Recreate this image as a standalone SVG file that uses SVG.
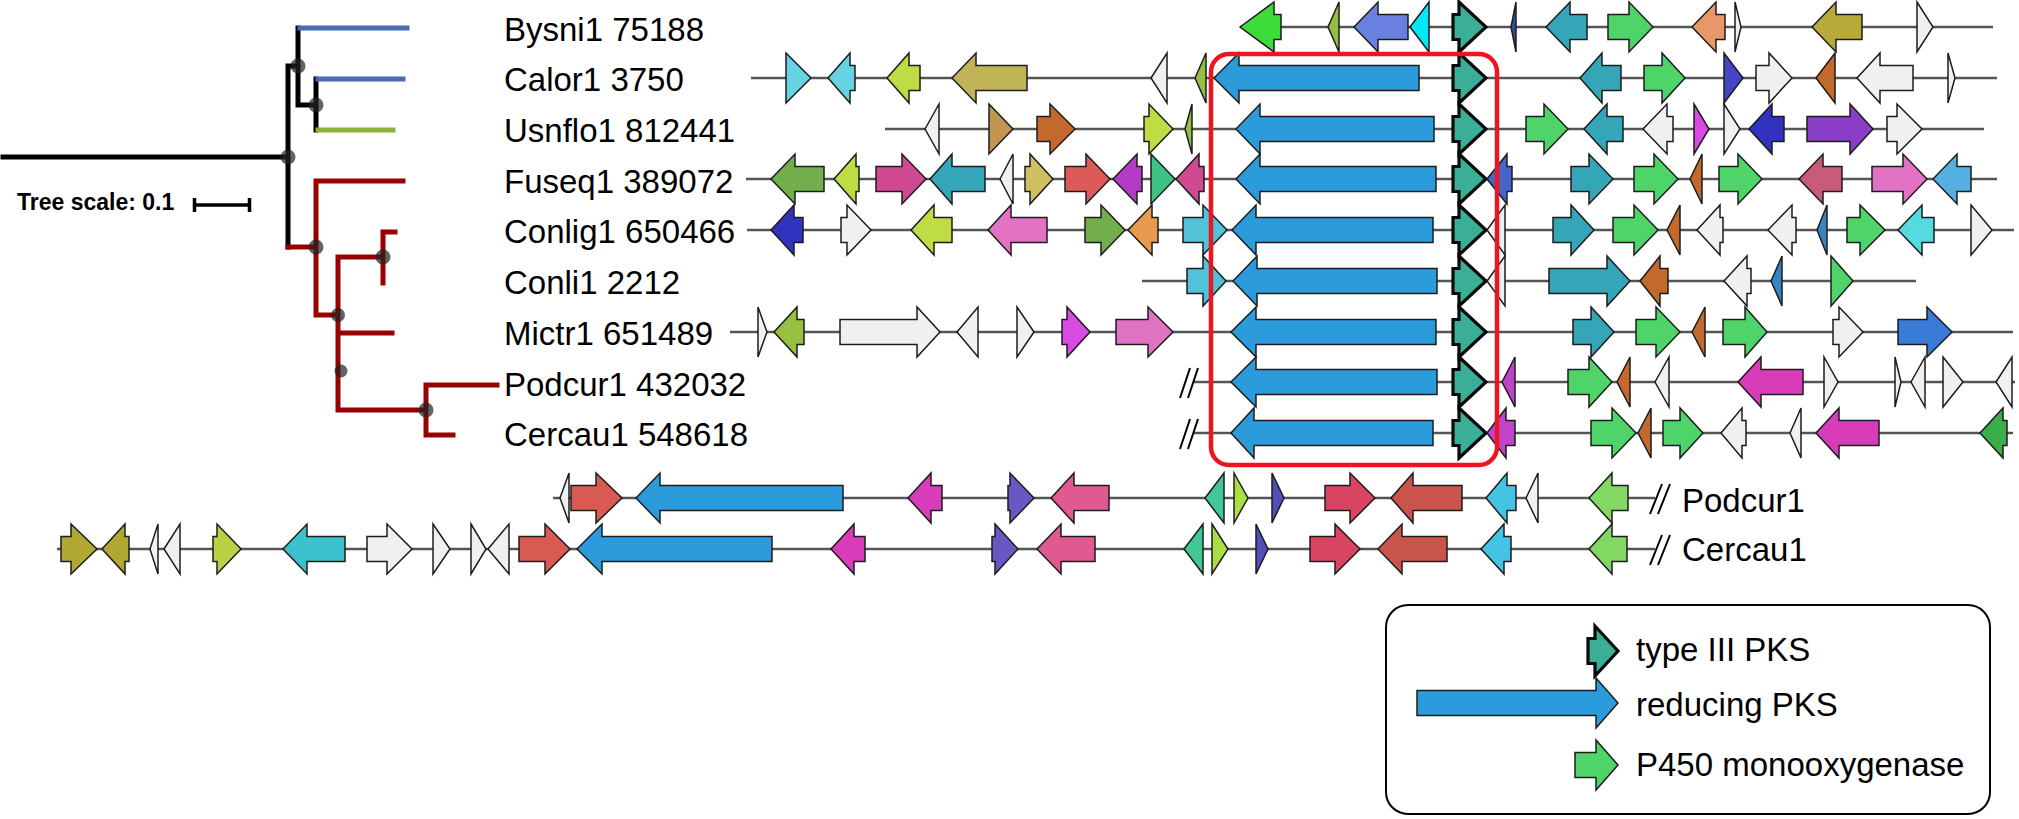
<svg xmlns="http://www.w3.org/2000/svg" width="2019" height="819" viewBox="0 0 2019 819">
<style>
text{font-family:"Liberation Sans",Arial,sans-serif;fill:#000}
.lab{font-size:33px}
.bb{stroke:#555;stroke-width:2.5}
polygon{stroke:#1c1c1c;stroke-width:1.5;stroke-linejoin:miter}
.p3{fill:#3aae97;stroke:#0a0a0a;stroke-width:3.2}
.bg{fill:#3ddc3a}.ol{fill:#93c043}.pw{fill:#6a80e0}.cy{fill:#00e8f5}.db3{fill:#2f4fa0}
.tl{fill:#35a5b8}.gr{fill:#4fd46a}.sa{fill:#e8976a}.wh{fill:#f0f0f0}.ok{fill:#b8aa38}
.lc{fill:#66d2e2}.yg{fill:#bedc44}.kh{fill:#c0b456}.bl{fill:#2b9bdc}.bv{fill:#4545c8}
.br{fill:#c4692e}.tn{fill:#c39555}.dk{fill:#3232c0}.pu{fill:#8a3ec8}.mg{fill:#72ae4c}
.pm{fill:#cf4a92}.kh2{fill:#d0c064}.rd{fill:#dc5a58}.vm{fill:#b43cc4}.tg{fill:#3ec286}
.bu{fill:#4565c8}.rs{fill:#c85a7a}.pi{fill:#e272c4}.lb{fill:#55b0e2}.or{fill:#e89a50}
.lbc{fill:#52c2da}.sb{fill:#3a82c0}.cy2{fill:#55dae0}.mgn{fill:#d84ae2}.bl2{fill:#3a7ad8}
.pur{fill:#c044c8}.mag{fill:#d83cb8}.dg{fill:#3aae4a}.rd2{fill:#d85a52}.sl{fill:#6858c4}
.pk{fill:#e05a92}.tgr{fill:#42c894}.lg{fill:#a8e044}.nb{fill:#5050b8}.cr{fill:#d84462}
.rb{fill:#c8544c}.lb2{fill:#44c4e4}.lgr{fill:#82d862}.ob{fill:#b0a832}.ybg{fill:#b8d244}
.cy3{fill:#3cc2cc}.ol2{fill:#98c040}
.tk{stroke:#000;stroke-width:5;stroke-linecap:square;fill:none}
.tb{stroke:#4a6db0;stroke-width:5;stroke-linecap:square;fill:none}
.tgn{stroke:#8db33a;stroke-width:5;stroke-linecap:square;fill:none}
.tr{stroke:#990000;stroke-width:5;stroke-linecap:square;fill:none}
.nd{fill:#222;fill-opacity:0.7}
.brk{stroke:#000;stroke-width:2}
</style>

<g id="tree">
<path class="tk" d="M3,157H288M288,66V247M288,66H298M298,28V105M298,105H316M316,79V130"/>
<path class="tb" d="M300,28H407M318,79H403"/>
<path class="tgn" d="M318,130H393"/>
<path class="tr" d="M288,247H316M316,181V315M316,181H403M316,315H338M338,257V410M338,257H383M383,232V283M383,232H395M338,333H392M338,410H426M426,385V435M426,385H497M426,435H453"/>
<circle class="nd" cx="298" cy="66" r="7.5"/>
<circle class="nd" cx="316" cy="105" r="7.5"/>
<circle class="nd" cx="288" cy="157" r="7.5"/>
<circle class="nd" cx="316" cy="247" r="7.5"/>
<circle class="nd" cx="383" cy="257" r="7.5"/>
<circle class="nd" cx="338" cy="315" r="7"/>
<circle class="nd" cx="341" cy="371" r="6.5"/>
<circle class="nd" cx="426" cy="410" r="7.5"/>
</g>

<g id="tree-scale">
<text x="17" y="210" font-size="23" font-weight="bold">Tree scale: 0.1</text>
<path d="M193,205H251M194.5,198V212M249.5,198V212" stroke="#000" stroke-width="3.5" fill="none"/>
</g>

<g id="labels" class="lab">
<text x="504" y="41">Bysni1 75188</text>
<text x="504" y="91">Calor1 3750</text>
<text x="504" y="142">Usnflo1 812441</text>
<text x="504" y="193">Fuseq1 389072</text>
<text x="504" y="243">Conlig1 650466</text>
<text x="504" y="294">Conli1 2212</text>
<text x="504" y="345">Mictr1 651489</text>
<text x="504" y="396">Podcur1 432032</text>
<text x="504" y="446">Cercau1 548618</text>
<text x="1682" y="512">Podcur1</text>
<text x="1682" y="561">Cercau1</text>
</g>

<g id="row-bysni1" transform="translate(0,27)">
<line class="bb" x1="1240" x2="1993"/>
<polygon class="bg" points="1240,0 1274,-25 1274,-12.5 1281,-12.5 1281,12.5 1274,12.5 1274,25"/>
<polygon class="ol" points="1328,0 1339,-25 1339,25"/>
<polygon class="pw" points="1354,0 1378,-25 1378,-12.5 1408,-12.5 1408,12.5 1378,12.5 1378,25"/>
<polygon class="cy" points="1410,0 1429,-25 1429,25"/>
<polygon class="p3" points="1453,-12.5 1459,-12.5 1459,-25 1486,0 1459,25 1459,12.5 1453,12.5"/>
<polygon class="db3" points="1511,0 1516,-25 1516,25"/>
<polygon class="tl" points="1546,0 1570,-25 1570,-12.5 1587,-12.5 1587,12.5 1570,12.5 1570,25"/>
<polygon class="gr" points="1608,-12.5 1629,-12.5 1629,-25 1653,0 1629,25 1629,12.5 1608,12.5"/>
<polygon class="sa" points="1692,0 1716,-25 1716,-12.5 1725,-12.5 1725,12.5 1716,12.5 1716,25"/>
<polygon class="wh" points="1735,-25 1741,0 1735,25"/>
<polygon class="ok" points="1812,0 1836,-25 1836,-12.5 1862,-12.5 1862,12.5 1836,12.5 1836,25"/>
<polygon class="wh" points="1917,-25 1933,0 1917,25"/>
</g>

<g id="row-calor1" transform="translate(0,78)">
<line class="bb" x1="751" x2="1997"/>
<polygon class="lc" points="786,-25 811,0 786,25"/>
<polygon class="lc" points="828,0 850,-25 850,-12.5 855,-12.5 855,12.5 850,12.5 850,25"/>
<polygon class="yg" points="887,0 909,-25 909,-12.5 920,-12.5 920,12.5 909,12.5 909,25"/>
<polygon class="kh" points="952,0 976,-25 976,-12.5 1027,-12.5 1027,12.5 976,12.5 976,25"/>
<polygon class="wh" points="1151,0 1167,-25 1167,25"/>
<polygon class="ol" points="1195,0 1206,-25 1206,25"/>
<polygon class="bl" points="1214,0 1239,-25 1239,-12.5 1419,-12.5 1419,12.5 1239,12.5 1239,25"/>
<polygon class="p3" points="1453,-12.5 1459,-12.5 1459,-25 1486,0 1459,25 1459,12.5 1453,12.5"/>
<polygon class="tl" points="1580,0 1602,-25 1602,-12.5 1621,-12.5 1621,12.5 1602,12.5 1602,25"/>
<polygon class="gr" points="1644,-12.5 1662,-12.5 1662,-25 1685,0 1662,25 1662,12.5 1644,12.5"/>
<polygon class="bv" points="1724,-25 1743,0 1724,25"/>
<polygon class="wh" points="1756,-12.5 1769,-12.5 1769,-25 1792,0 1769,25 1769,12.5 1756,12.5"/>
<polygon class="br" points="1816,0 1835,-25 1835,25"/>
<polygon class="wh" points="1857,0 1880,-25 1880,-12.5 1913,-12.5 1913,12.5 1880,12.5 1880,25"/>
<polygon class="wh" points="1948,-25 1955,0 1948,25"/>
</g>

<g id="row-usnflo1" transform="translate(0,129)">
<line class="bb" x1="885" x2="1984"/>
<polygon class="wh" points="925,0 939,-25 939,25"/>
<polygon class="tn" points="989,-25 1013,0 989,25"/>
<polygon class="br" points="1037,-12.5 1050,-12.5 1050,-25 1075,0 1050,25 1050,12.5 1037,12.5"/>
<polygon class="yg" points="1144,-12.5 1149,-12.5 1149,-25 1173,0 1149,25 1149,12.5 1144,12.5"/>
<polygon class="ol" points="1185,0 1192,-25 1192,25"/>
<polygon class="bl" points="1236,0 1260,-25 1260,-12.5 1434,-12.5 1434,12.5 1260,12.5 1260,25"/>
<polygon class="p3" points="1453,-12.5 1459,-12.5 1459,-25 1486,0 1459,25 1459,12.5 1453,12.5"/>
<polygon class="gr" points="1526,-12.5 1544,-12.5 1544,-25 1568,0 1544,25 1544,12.5 1526,12.5"/>
<polygon class="tl" points="1584,0 1607,-25 1607,-12.5 1623,-12.5 1623,12.5 1607,12.5 1607,25"/>
<polygon class="wh" points="1643,0 1667,-25 1667,-12.5 1673,-12.5 1673,12.5 1667,12.5 1667,25"/>
<polygon class="mgn" points="1694,-25 1709,0 1694,25"/>
<polygon class="wh" points="1724,-25 1740,0 1724,25"/>
<polygon class="dk" points="1749,0 1772,-25 1772,-12.5 1784,-12.5 1784,12.5 1772,12.5 1772,25"/>
<polygon class="pu" points="1807,-12.5 1850,-12.5 1850,-25 1873,0 1850,25 1850,12.5 1807,12.5"/>
<polygon class="wh" points="1887,-12.5 1897,-12.5 1897,-25 1922,0 1897,25 1897,12.5 1887,12.5"/>
</g>

<g id="row-fuseq1" transform="translate(0,179)">
<line class="bb" x1="746" x2="1997"/>
<polygon class="mg" points="771,0 795,-25 795,-12.5 824,-12.5 824,12.5 795,12.5 795,25"/>
<polygon class="yg" points="834,0 856,-25 856,-12.5 859,-12.5 859,12.5 856,12.5 856,25"/>
<polygon class="pm" points="876,-12.5 902,-12.5 902,-25 926,0 902,25 902,12.5 876,12.5"/>
<polygon class="tl" points="930,0 952,-25 952,-12.5 985,-12.5 985,12.5 952,12.5 952,25"/>
<polygon class="wh" points="1000,0 1013,-25 1013,25"/>
<polygon class="kh2" points="1025,-12.5 1030,-12.5 1030,-25 1053,0 1030,25 1030,12.5 1025,12.5"/>
<polygon class="rd" points="1065,-12.5 1086,-12.5 1086,-25 1110,0 1086,25 1086,12.5 1065,12.5"/>
<polygon class="vm" points="1113,0 1137,-25 1137,-12.5 1142,-12.5 1142,12.5 1137,12.5 1137,25"/>
<polygon class="tg" points="1151,-25 1175,0 1151,25"/>
<polygon class="pm" points="1176,0 1199,-25 1199,-12.5 1204,-12.5 1204,12.5 1199,12.5 1199,25"/>
<polygon class="bl" points="1236,0 1260,-25 1260,-12.5 1436,-12.5 1436,12.5 1260,12.5 1260,25"/>
<polygon class="p3" points="1453,-12.5 1459,-12.5 1459,-25 1486,0 1459,25 1459,12.5 1453,12.5"/>
<polygon class="bu" points="1487,0 1507,-25 1507,-12.5 1512,-12.5 1512,12.5 1507,12.5 1507,25"/>
<polygon class="tl" points="1571,-12.5 1589,-12.5 1589,-25 1613,0 1589,25 1589,12.5 1571,12.5"/>
<polygon class="gr" points="1634,-12.5 1654,-12.5 1654,-25 1678,0 1654,25 1654,12.5 1634,12.5"/>
<polygon class="br" points="1690,0 1702,-25 1702,25"/>
<polygon class="gr" points="1719,-12.5 1738,-12.5 1738,-25 1762,0 1738,25 1738,12.5 1719,12.5"/>
<polygon class="rs" points="1799,0 1823,-25 1823,-12.5 1842,-12.5 1842,12.5 1823,12.5 1823,25"/>
<polygon class="pi" points="1872,-12.5 1903,-12.5 1903,-25 1927,0 1903,25 1903,12.5 1872,12.5"/>
<polygon class="lb" points="1933,0 1957,-25 1957,-12.5 1971,-12.5 1971,12.5 1957,12.5 1957,25"/>
</g>

<g id="row-conlig1" transform="translate(0,230)">
<line class="bb" x1="747" x2="2014"/>
<polygon class="dk" points="771,0 794,-25 794,-12.5 803,-12.5 803,12.5 794,12.5 794,25"/>
<polygon class="wh" points="841,-12.5 847,-12.5 847,-25 871,0 847,25 847,12.5 841,12.5"/>
<polygon class="yg" points="911,0 934,-25 934,-12.5 952,-12.5 952,12.5 934,12.5 934,25"/>
<polygon class="pi" points="988,0 1011,-25 1011,-12.5 1047,-12.5 1047,12.5 1011,12.5 1011,25"/>
<polygon class="mg" points="1085,-12.5 1101,-12.5 1101,-25 1125,0 1101,25 1101,12.5 1085,12.5"/>
<polygon class="or" points="1128,0 1152,-25 1152,-12.5 1158,-12.5 1158,12.5 1152,12.5 1152,25"/>
<polygon class="lbc" points="1183,-12.5 1203,-12.5 1203,-25 1227,0 1203,25 1203,12.5 1183,12.5"/>
<polygon class="bl" points="1232,0 1256,-25 1256,-12.5 1433,-12.5 1433,12.5 1256,12.5 1256,25"/>
<polygon class="p3" points="1453,-12.5 1459,-12.5 1459,-25 1486,0 1459,25 1459,12.5 1453,12.5"/>
<polygon class="wh" points="1487,0 1505,-25 1505,25"/>
<polygon class="tl" points="1553,-12.5 1571,-12.5 1571,-25 1594,0 1571,25 1571,12.5 1553,12.5"/>
<polygon class="gr" points="1613,-12.5 1634,-12.5 1634,-25 1658,0 1634,25 1634,12.5 1613,12.5"/>
<polygon class="br" points="1667,0 1680,-25 1680,25"/>
<polygon class="wh" points="1697,0 1720,-25 1720,-12.5 1723,-12.5 1723,12.5 1720,12.5 1720,25"/>
<polygon class="wh" points="1768,0 1792,-25 1792,-12.5 1796,-12.5 1796,12.5 1792,12.5 1792,25"/>
<polygon class="sb" points="1817,0 1827,-25 1827,25"/>
<polygon class="gr" points="1847,-12.5 1860,-12.5 1860,-25 1885,0 1860,25 1860,12.5 1847,12.5"/>
<polygon class="cy2" points="1898,0 1922,-25 1922,-12.5 1934,-12.5 1934,12.5 1922,12.5 1922,25"/>
<polygon class="wh" points="1971,-25 1992,0 1971,25"/>
</g>

<g id="row-conli1" transform="translate(0,281)">
<line class="bb" x1="1142" x2="1916"/>
<polygon class="lbc" points="1187,-12.5 1203,-12.5 1203,-25 1226,0 1203,25 1203,12.5 1187,12.5"/>
<polygon class="bl" points="1233,0 1257,-25 1257,-12.5 1437,-12.5 1437,12.5 1257,12.5 1257,25"/>
<polygon class="p3" points="1453,-12.5 1459,-12.5 1459,-25 1486,0 1459,25 1459,12.5 1453,12.5"/>
<polygon class="wh" points="1487,0 1505,-25 1505,25"/>
<polygon class="tl" points="1549,-12.5 1607,-12.5 1607,-25 1630,0 1607,25 1607,12.5 1549,12.5"/>
<polygon class="br" points="1640,0 1660,-25 1660,-12.5 1668,-12.5 1668,12.5 1660,12.5 1660,25"/>
<polygon class="wh" points="1724,0 1747,-25 1747,-12.5 1751,-12.5 1751,12.5 1747,12.5 1747,25"/>
<polygon class="sb" points="1771,0 1782,-25 1782,25"/>
<polygon class="gr" points="1831,-25 1853,0 1831,25"/>
</g>

<g id="row-mictr1" transform="translate(0,332)">
<line class="bb" x1="730" x2="2013"/>
<polygon class="wh" points="758,-25 767,0 758,25"/>
<polygon class="ol2" points="774,0 797,-25 797,-12.5 804,-12.5 804,12.5 797,12.5 797,25"/>
<polygon class="wh" points="840,-12.5 917,-12.5 917,-25 940,0 917,25 917,12.5 840,12.5"/>
<polygon class="wh" points="957,0 978,-25 978,25"/>
<polygon class="wh" points="1017,-25 1034,0 1017,25"/>
<polygon class="mgn" points="1062,-12.5 1067,-12.5 1067,-25 1090,0 1067,25 1067,12.5 1062,12.5"/>
<polygon class="pi" points="1116,-12.5 1148,-12.5 1148,-25 1173,0 1148,25 1148,12.5 1116,12.5"/>
<polygon class="bl" points="1231,0 1256,-25 1256,-12.5 1436,-12.5 1436,12.5 1256,12.5 1256,25"/>
<polygon class="p3" points="1453,-12.5 1459,-12.5 1459,-25 1486,0 1459,25 1459,12.5 1453,12.5"/>
<polygon class="tl" points="1573,-12.5 1591,-12.5 1591,-25 1614,0 1591,25 1591,12.5 1573,12.5"/>
<polygon class="gr" points="1636,-12.5 1656,-12.5 1656,-25 1680,0 1656,25 1656,12.5 1636,12.5"/>
<polygon class="br" points="1692,0 1705,-25 1705,25"/>
<polygon class="gr" points="1723,-12.5 1745,-12.5 1745,-25 1767,0 1745,25 1745,12.5 1723,12.5"/>
<polygon class="wh" points="1833,-12.5 1839,-12.5 1839,-25 1863,0 1839,25 1839,12.5 1833,12.5"/>
<polygon class="bl2" points="1898,-12.5 1927,-12.5 1927,-25 1952,0 1927,25 1927,12.5 1898,12.5"/>
</g>

<g id="row-podcur1" transform="translate(0,382)">
<line class="bb" x1="1193" x2="2015"/>
<path class="brk" d="M1180,16L1190,-14M1188,16L1198,-14"/>
<polygon class="bl" points="1231,0 1256,-25 1256,-12.5 1437,-12.5 1437,12.5 1256,12.5 1256,25"/>
<polygon class="p3" points="1453,-12.5 1459,-12.5 1459,-25 1486,0 1459,25 1459,12.5 1453,12.5"/>
<polygon class="pur" points="1502,0 1515,-25 1515,25"/>
<polygon class="gr" points="1568,-12.5 1589,-12.5 1589,-25 1612,0 1589,25 1589,12.5 1568,12.5"/>
<polygon class="br" points="1617,0 1630,-25 1630,25"/>
<polygon class="wh" points="1655,0 1669,-25 1669,25"/>
<polygon class="mag" points="1738,0 1761,-25 1761,-12.5 1803,-12.5 1803,12.5 1761,12.5 1761,25"/>
<polygon class="wh" points="1824,-25 1838,0 1824,25"/>
<polygon class="wh" points="1895,-25 1901,0 1895,25"/>
<polygon class="wh" points="1911,0 1925,-25 1925,25"/>
<polygon class="wh" points="1943,-25 1963,0 1943,25"/>
<polygon class="wh" points="1996,0 2012,-25 2012,25"/>
</g>

<g id="row-cercau1" transform="translate(0,433)">
<line class="bb" x1="1193" x2="2013"/>
<path class="brk" d="M1180,16L1190,-14M1188,16L1198,-14"/>
<polygon class="bl" points="1231,0 1254,-25 1254,-12.5 1433,-12.5 1433,12.5 1254,12.5 1254,25"/>
<polygon class="p3" points="1453,-12.5 1459,-12.5 1459,-25 1486,0 1459,25 1459,12.5 1453,12.5"/>
<polygon class="pur" points="1487,0 1506,-25 1506,-12.5 1515,-12.5 1515,12.5 1506,12.5 1506,25"/>
<polygon class="gr" points="1591,-12.5 1612,-12.5 1612,-25 1636,0 1612,25 1612,12.5 1591,12.5"/>
<polygon class="br" points="1638,0 1651,-25 1651,25"/>
<polygon class="gr" points="1663,-12.5 1680,-12.5 1680,-25 1703,0 1680,25 1680,12.5 1663,12.5"/>
<polygon class="wh" points="1721,0 1742,-25 1742,-12.5 1746,-12.5 1746,12.5 1742,12.5 1742,25"/>
<polygon class="wh" points="1790,0 1801,-25 1801,25"/>
<polygon class="mag" points="1816,0 1839,-25 1839,-12.5 1879,-12.5 1879,12.5 1839,12.5 1839,25"/>
<polygon class="dg" points="1980,0 2003,-25 2003,-12.5 2007,-12.5 2007,12.5 2003,12.5 2003,25"/>
</g>

<g id="row-podcur1-ext" transform="translate(0,498)">
<line class="bb" x1="553" x2="1655"/>
<path class="brk" d="M1650,16L1662,-14M1658,16L1670,-14"/>
<polygon class="wh" points="560,0 569,-25 569,25"/>
<polygon class="rd2" points="571,-12.5 596,-12.5 596,-25 622,0 596,25 596,12.5 571,12.5"/>
<polygon class="bl" points="636,0 660,-25 660,-12.5 843,-12.5 843,12.5 660,12.5 660,25"/>
<polygon class="mag" points="908,0 931,-25 931,-12.5 942,-12.5 942,12.5 931,12.5 931,25"/>
<polygon class="sl" points="1008,-12.5 1010,-12.5 1010,-25 1034,0 1010,25 1010,12.5 1008,12.5"/>
<polygon class="pk" points="1051,0 1074,-25 1074,-12.5 1109,-12.5 1109,12.5 1074,12.5 1074,25"/>
<polygon class="tgr" points="1205,0 1224,-25 1224,25"/>
<polygon class="lg" points="1234,-25 1248,0 1234,25"/>
<polygon class="nb" points="1272,-25 1284,0 1272,25"/>
<polygon class="cr" points="1325,-12.5 1350,-12.5 1350,-25 1375,0 1350,25 1350,12.5 1325,12.5"/>
<polygon class="rb" points="1391,0 1413,-25 1413,-12.5 1462,-12.5 1462,12.5 1413,12.5 1413,25"/>
<polygon class="lb2" points="1486,0 1507,-25 1507,-12.5 1516,-12.5 1516,12.5 1507,12.5 1507,25"/>
<polygon class="wh" points="1526,0 1538,-25 1538,25"/>
<polygon class="lgr" points="1589,0 1612,-25 1612,-12.5 1628,-12.5 1628,12.5 1612,12.5 1612,25"/>
</g>

<g id="row-cercau1-ext" transform="translate(0,549)">
<line class="bb" x1="57" x2="1655"/>
<path class="brk" d="M1650,16L1662,-14M1658,16L1670,-14"/>
<polygon class="ob" points="61,-12.5 71,-12.5 71,-25 97,0 71,25 71,12.5 61,12.5"/>
<polygon class="ob" points="102,0 125,-25 125,-12.5 129,-12.5 129,12.5 125,12.5 125,25"/>
<polygon class="wh" points="150,0 158,-25 158,25"/>
<polygon class="wh" points="164,0 180,-25 180,25"/>
<polygon class="ybg" points="213,-12.5 217,-12.5 217,-25 241,0 217,25 217,12.5 213,12.5"/>
<polygon class="cy3" points="283,0 307,-25 307,-12.5 345,-12.5 345,12.5 307,12.5 307,25"/>
<polygon class="wh" points="367,-12.5 387,-12.5 387,-25 412,0 387,25 387,12.5 367,12.5"/>
<polygon class="wh" points="433,-25 450,0 433,25"/>
<polygon class="wh" points="471,-25 486,0 471,25"/>
<polygon class="wh" points="488,0 509,-25 509,25"/>
<polygon class="rd2" points="519,-12.5 545,-12.5 545,-25 570,0 545,25 545,12.5 519,12.5"/>
<polygon class="bl" points="577,0 602,-25 602,-12.5 772,-12.5 772,12.5 602,12.5 602,25"/>
<polygon class="mag" points="831,0 854,-25 854,-12.5 865,-12.5 865,12.5 854,12.5 854,25"/>
<polygon class="sl" points="992,-12.5 995,-12.5 995,-25 1018,0 995,25 995,12.5 992,12.5"/>
<polygon class="pk" points="1037,0 1061,-25 1061,-12.5 1095,-12.5 1095,12.5 1061,12.5 1061,25"/>
<polygon class="tgr" points="1184,0 1203,-25 1203,25"/>
<polygon class="lg" points="1212,-25 1228,0 1212,25"/>
<polygon class="nb" points="1256,-25 1268,0 1256,25"/>
<polygon class="cr" points="1310,-12.5 1335,-12.5 1335,-25 1360,0 1335,25 1335,12.5 1310,12.5"/>
<polygon class="rb" points="1378,0 1402,-25 1402,-12.5 1447,-12.5 1447,12.5 1402,12.5 1402,25"/>
<polygon class="lb2" points="1481,0 1504,-25 1504,-12.5 1511,-12.5 1511,12.5 1504,12.5 1504,25"/>
<polygon class="lgr" points="1589,0 1612,-25 1612,-12.5 1627,-12.5 1627,12.5 1612,12.5 1612,25"/>
</g>

<g id="highlight-box">
<rect x="1211" y="54" width="286" height="411" rx="18" fill="none" stroke="#ec1520" stroke-width="4.5"/>
</g>

<g id="legend">
<rect x="1386" y="605" width="604" height="209" rx="22" fill="#fff" stroke="#000" stroke-width="2"/>
<polygon class="p3" points="1588,638.5 1595,638.5 1595,626 1618,651 1595,676 1595,663.5 1588,663.5"/>
<polygon class="bl" points="1417,690.5 1596,690.5 1596,678 1618,703 1596,728 1596,715.5 1417,715.5"/>
<polygon class="gr" points="1575,752.5 1596,752.5 1596,740 1618,765 1596,790 1596,777.5 1575,777.5"/>
<text class="lab" x="1636" y="661">type III PKS</text>
<text class="lab" x="1636" y="716">reducing PKS</text>
<text class="lab" x="1636" y="776">P450 monooxygenase</text>
</g>
</svg>
